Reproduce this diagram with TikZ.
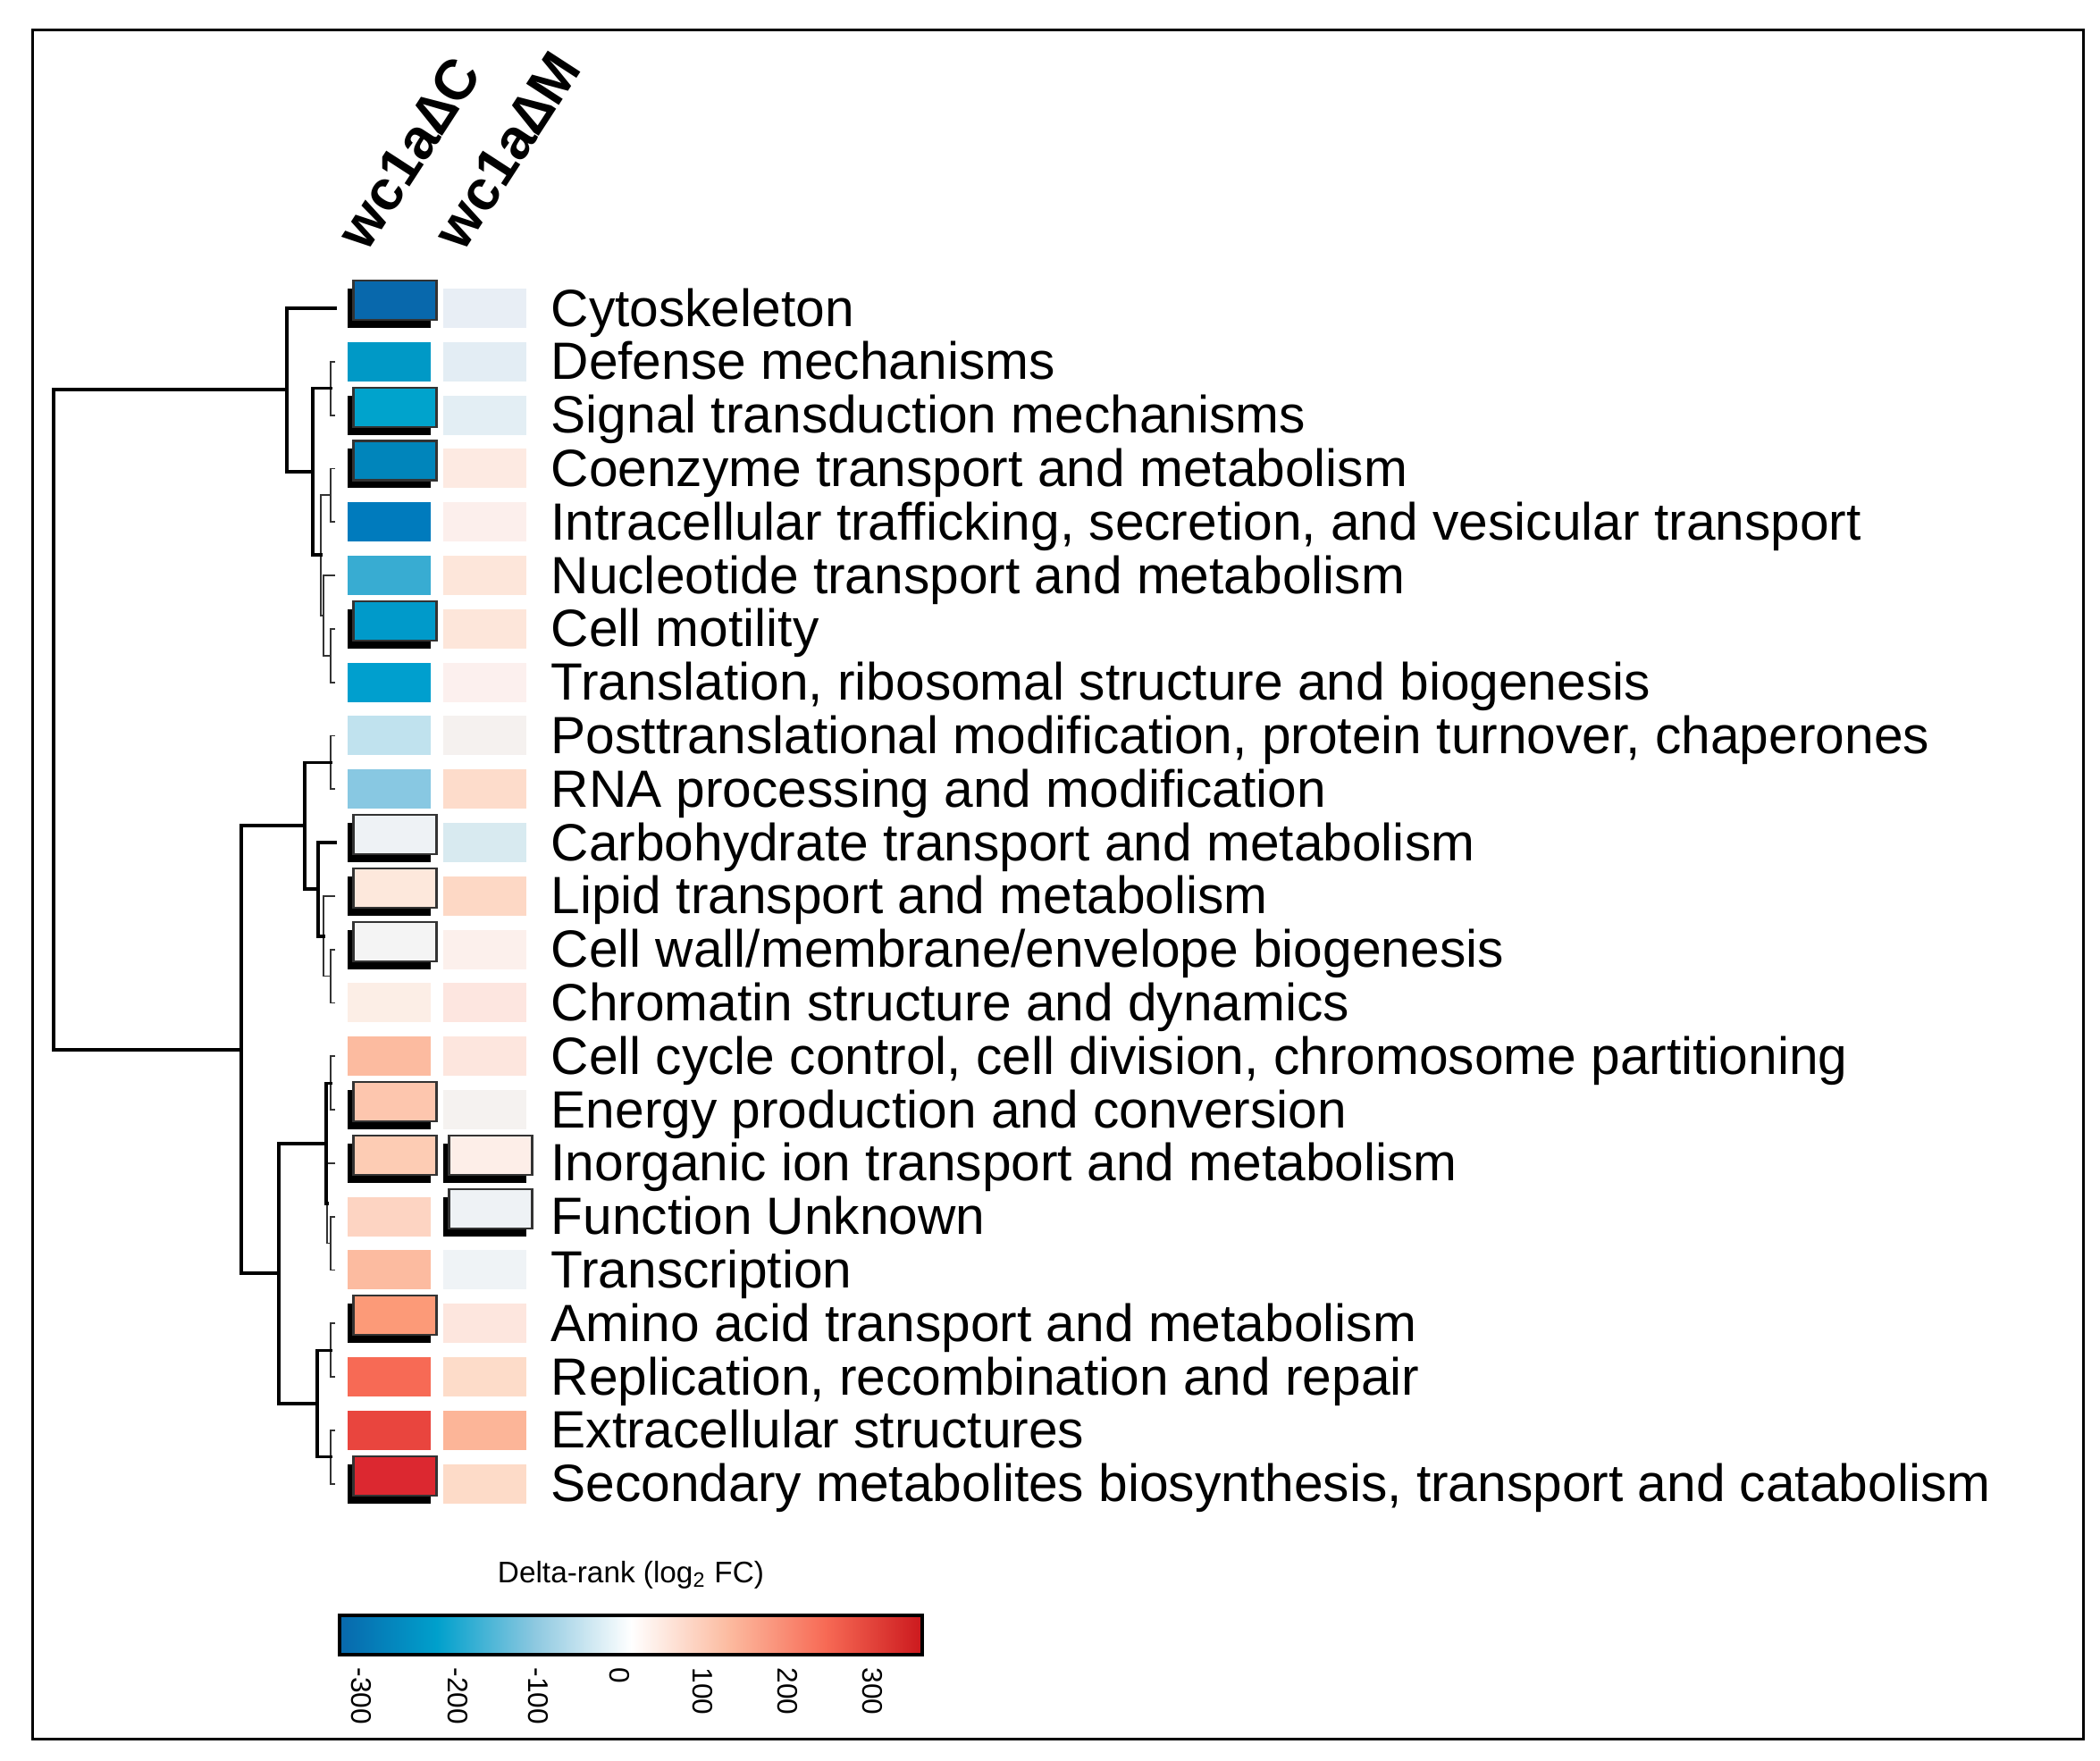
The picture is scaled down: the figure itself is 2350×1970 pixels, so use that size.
\documentclass[tikz,border=0pt]{standalone}
\usepackage{fontspec}
\setmainfont{Liberation Sans}
\usetikzlibrary{positioning}
% cell colours, column 1 (ca) and column 2 (cb)
\definecolor{ca1}{HTML}{0868AC}\definecolor{cb1}{HTML}{E8EEF5}
\definecolor{ca2}{HTML}{0099C6}\definecolor{cb2}{HTML}{E3EDF4}
\definecolor{ca3}{HTML}{00A3CC}\definecolor{cb3}{HTML}{E3EEF4}
\definecolor{ca4}{HTML}{0085BB}\definecolor{cb4}{HTML}{FDEAE2}
\definecolor{ca5}{HTML}{007BBD}\definecolor{cb5}{HTML}{FCEFEC}
\definecolor{ca6}{HTML}{38ACD2}\definecolor{cb6}{HTML}{FDE6DA}
\definecolor{ca7}{HTML}{009ACA}\definecolor{cb7}{HTML}{FDE6DA}
\definecolor{ca8}{HTML}{009FCE}\definecolor{cb8}{HTML}{FCF0EE}
\definecolor{ca9}{HTML}{C0E2EE}\definecolor{cb9}{HTML}{F5F1EF}
\definecolor{ca10}{HTML}{88C8E2}\definecolor{cb10}{HTML}{FDDCCB}
\definecolor{ca11}{HTML}{EEF2F5}\definecolor{cb11}{HTML}{D8EAF0}
\definecolor{ca12}{HTML}{FDE8DC}\definecolor{cb12}{HTML}{FDD8C5}
\definecolor{ca13}{HTML}{F4F4F4}\definecolor{cb13}{HTML}{FCF0EC}
\definecolor{ca14}{HTML}{FCEEE6}\definecolor{cb14}{HTML}{FDE6E0}
\definecolor{ca15}{HTML}{FCBBA0}\definecolor{cb15}{HTML}{FDE6DE}
\definecolor{ca16}{HTML}{FDC6AE}\definecolor{cb16}{HTML}{F5F2F0}
\definecolor{ca17}{HTML}{FDCCB4}\definecolor{cb17}{HTML}{FDEEE8}
\definecolor{ca18}{HTML}{FDD4C2}\definecolor{cb18}{HTML}{EEF2F5}
\definecolor{ca19}{HTML}{FCBBA0}\definecolor{cb19}{HTML}{EFF3F6}
\definecolor{ca20}{HTML}{FC9A78}\definecolor{cb20}{HTML}{FDE6DE}
\definecolor{ca21}{HTML}{F76A55}\definecolor{cb21}{HTML}{FDDCC9}
\definecolor{ca22}{HTML}{E9453E}\definecolor{cb22}{HTML}{FCB598}
\definecolor{ca23}{HTML}{DC2830}\definecolor{cb23}{HTML}{FDDBC8}
\definecolor{bar0}{HTML}{0868AC}\definecolor{bar1}{HTML}{00A0CC}
\definecolor{bar2}{HTML}{8CC8E0}\definecolor{bar3}{HTML}{FFFFFF}
\definecolor{bar4}{HTML}{FCBBA0}\definecolor{bar5}{HTML}{F76A55}
\definecolor{bar6}{HTML}{CB181D}
\tikzset{tree/.style={line width=3.2pt*0.3,line cap=rect}}
\tikzset{twig/.style={line width=1.8pt*0.3,black!80}}
\tikzset{cell/.style={minimum width=93*0.3pt,minimum height=44*0.3pt,inner sep=0pt}}
\tikzset{boxed/.style={draw=black!80,line width=2.2pt*0.3}}
\tikzset{category/.style={anchor=base west,inner sep=0pt,font=\fontsize{17.6}{20}\selectfont}}
\tikzset{strain/.style={anchor=base west,rotate=57,inner sep=0pt,font=\fontsize{19}{22}\selectfont\bfseries}}
\tikzset{tick/.style={anchor=west,rotate=-90,inner sep=0pt,font=\fontsize{9.5}{11}\selectfont}}

\begin{document}
\begin{tikzpicture}[x=0.3pt,y=-0.3pt]
    \useasboundingbox (0,0) rectangle (2350,1970);
    \draw[line width=3pt*0.3] (36,33) rectangle (2331,1946);
    % strain headers
    \node[strain] (hC) at (410,284) {wc1a∆C};
    \node[strain] (hM) at (518,284) {wc1a∆M};
    % rows: cells and category labels
    \foreach \i/\name/\ba/\bb in {
        1/Cytoskeleton/1/0,
        2/Defense mechanisms/0/0,
        3/Signal transduction mechanisms/1/0,
        4/Coenzyme transport and metabolism/1/0,
        5/{Intracellular trafficking, secretion, and vesicular transport}/0/0,
        6/Nucleotide transport and metabolism/0/0,
        7/Cell motility/1/0,
        8/{Translation, ribosomal structure and biogenesis}/0/0,
        9/{Posttranslational modification, protein turnover, chaperones}/0/0,
        10/RNA processing and modification/0/0,
        11/Carbohydrate transport and metabolism/1/0,
        12/Lipid transport and metabolism/1/0,
        13/{Cell wall/membrane/envelope biogenesis}/1/0,
        14/Chromatin structure and dynamics/0/0,
        15/{Cell cycle control, cell division, chromosome partitioning}/0/0,
        16/Energy production and conversion/1/0,
        17/Inorganic ion transport and metabolism/1/1,
        18/Function Unknown/0/1,
        19/Transcription/0/0,
        20/Amino acid transport and metabolism/1/0,
        21/{Replication, recombination and repair}/0/0,
        22/Extracellular structures/0/0,
        23/{Secondary metabolites biosynthesis, transport and catabolism}/1/0}{
        \pgfmathsetmacro{\yy}{345+59.8*(\i-1)}
        \coordinate (l\i) at (375,\yy);
        \ifnum\ba=1
            \node[cell,fill=black] at (435,\yy) {};
            \node[cell,boxed,fill=ca\i] (ca\i) at (442,\yy-9) {};
        \else
            \node[cell,fill=ca\i] (ca\i) at (435,\yy) {};
        \fi
        \ifnum\bb=1
            \node[cell,fill=black] at (542,\yy) {};
            \node[cell,boxed,fill=cb\i] (cb\i) at (549,\yy-9) {};
        \else
            \node[cell,fill=cb\i] (cb\i) at (542,\yy) {};
        \fi
        \node[category] (t\i) at (616,\yy+20) {\name};
    }
    % small brackets
    \foreach \a/\b/\n in {2/3/b1, 4/5/p, 7/8/r, 9/10/s, 13/14/g, 15/16/j, 18/19/k2, 20/21/m1, 22/23/m2}{
        \path (l\a) -- (l\b) coordinate[midway,xshift=-5*0.3pt] (\n);
        \draw[twig] (l\a) -| (\n) |- (l\b);
    }
    % dendrogram
    \coordinate (q) at (362,689);   \draw[twig] (l6) -| (q) |- (r);
    \coordinate (b2) at (359,621);  \draw[twig] (p) -| (b2) |- (q);
    \coordinate (b) at (350,528);   \draw[tree] (b1) -| (b) |- (b2);
    \coordinate (a) at (321,436);   \draw[tree] (l1) -| (a) |- (b);
    \coordinate (f) at (362,1048);  \draw[twig] (l12) -| (f) |- (g);
    \coordinate (e) at (356,995);   \draw[tree] (l11) -| (e) |- (f);
    \coordinate (d) at (341,924);   \draw[tree] (s) -| (d) |- (e);
    \coordinate (k) at (366,1347);  \draw[twig] (l17) -| (k) |- (k2);
    \coordinate (i) at (365,1280);  \draw[tree] (j) -| (i) |- (k);
    \coordinate (m) at (355,1571);  \draw[tree] (m1) -| (m) |- (m2);
    \coordinate (h) at (312,1425);  \draw[tree] (i) -| (h) |- (m);
    \coordinate (c) at (270,1175);  \draw[tree] (d) -| (c) |- (h);
    \coordinate (root) at (60,800); \draw[tree] (a) -| (root) |- (c);
    % colour key
    \node[font=\fontsize{10}{12}\selectfont] (key) at (706,1763) {Delta-rank (log\textsubscript{2} FC)};
    \foreach \k [evaluate=\k as \kk using int(\k+1)] in {0,...,5}{
        \shade[left color=bar\k,right color=bar\kk] (380+108.7*\k,1808) rectangle (380+108.7*\k+109.2,1852);
    }
    \node[draw,line width=4pt*0.3,minimum width=652*0.3pt,minimum height=44*0.3pt,inner sep=0pt] (bar) at (706,1830) {};
    \foreach \v/\x in {-300/404,-200/512,-100/602,0/693,100/786,200/881,300/976}{
        \node[tick] (v\x) at (\x,1866) {\v};
    }
\end{tikzpicture}
\end{document}
